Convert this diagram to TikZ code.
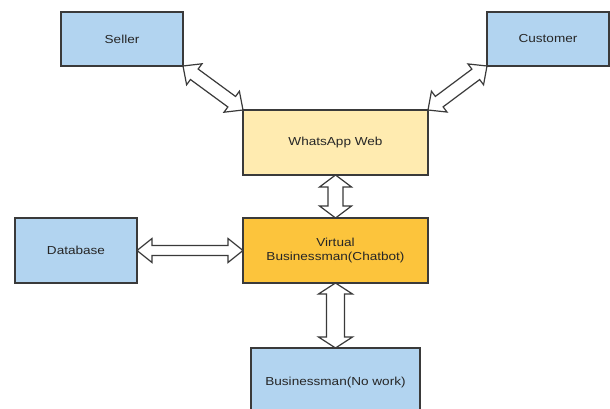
\documentclass[tikz,border=0pt]{standalone}
\usepackage{fontspec}
\setmainfont{Liberation Sans}[FakeStretch=1.17]
\usetikzlibrary{calc}
\definecolor{boxblue}{HTML}{B2D4F0}
\definecolor{paleyel}{HTML}{FFEBB0}
\definecolor{gold}{HTML}{FCC43C}
\definecolor{edge}{HTML}{3A3A3A}
\definecolor{txt}{HTML}{262626}
\tikzset{
  box/.style={draw=edge, line width=1.4pt, inner sep=0pt, outer sep=0pt,
    font=\fontsize{11.6}{14}\selectfont, text=txt, align=center},
  arr/.style={draw=edge, line width=1.2pt, fill=white, line join=miter},
}
\newcommand\dblarr[5]{%
  \path (#1) coordinate (ta) (#2) coordinate (tb);
  \path ($(ta)!#5pt!(tb)$) coordinate (ha) ($(tb)!#5pt!(ta)$) coordinate (hb);
  \draw[arr] (ta) -- ($(ha)!#3pt!90:(tb)$) -- ($(ha)!#4pt!90:(tb)$)
    -- ($(hb)!#4pt!-90:(ta)$) -- ($(hb)!#3pt!-90:(ta)$) -- (tb)
    -- ($(hb)!#3pt!90:(ta)$) -- ($(hb)!#4pt!90:(ta)$)
    -- ($(ha)!#4pt!-90:(tb)$) -- ($(ha)!#3pt!-90:(tb)$) -- cycle;
}
\begin{document}
\begin{tikzpicture}[x=1pt,y=-1pt]
\fill[white] (0,0) rectangle (610,409);
\useasboundingbox (0,0) rectangle (610,409);
\clip (0,0) rectangle (610,409);
\node[box, fill=boxblue, minimum width=122pt, minimum height=54pt] (s) at (122,39) {Seller};
\node[box, fill=boxblue, minimum width=122pt, minimum height=54pt] (c) at (548,39) {Customer};
\node[box, fill=paleyel, minimum width=185pt, minimum height=65pt] (w) at (335.5,142.5) {WhatsApp Web};
\node[box, fill=boxblue, minimum width=122pt, minimum height=65pt] (d) at (76,250.5) {Database};
\node[box, fill=gold, minimum width=185pt, minimum height=65pt] (v) at (335.5,250.5) {Virtual\\Businessman(Chatbot)};
\node[box, fill=boxblue, minimum width=169pt, minimum height=68pt] (b) at (335.5,382) {Businessman(No work)};
\dblarr{s.south east}{w.north west}{13}{6.5}{14}
\dblarr{c.south west}{w.north east}{13}{6.5}{14}
\dblarr{w.south}{v.north}{16}{7.5}{12}
\dblarr{d.east}{v.west}{12}{5}{15}
\dblarr{v.south}{b.north}{17}{9}{11}
\end{tikzpicture}
\end{document}
